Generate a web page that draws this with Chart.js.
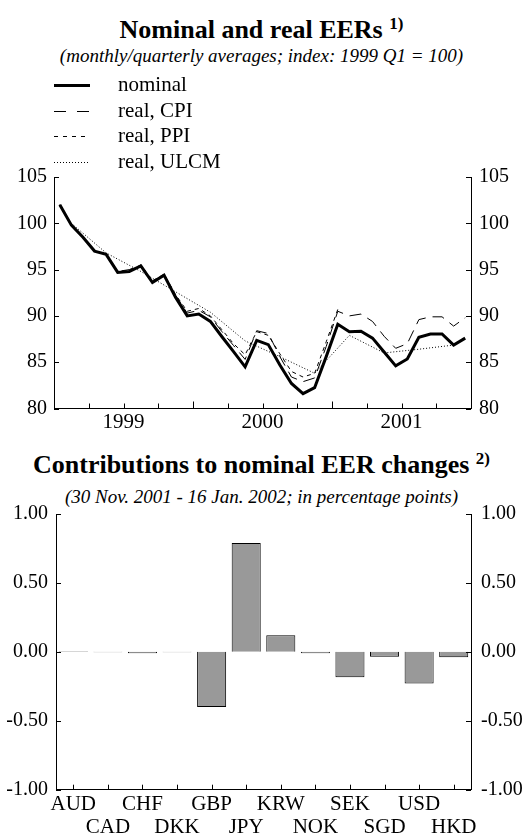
<!DOCTYPE html>
<html>
<head>
<meta charset="utf-8">
<script src="https://cdn.jsdelivr.net/npm/chart.js@4.4.0/dist/chart.umd.min.js"></script>
<style>
  body { margin: 0; background: #fff; }
  #page { position: relative; width: 523px; height: 836px; font-family: "Liberation Serif", "DejaVu Serif", serif; color: #000; }
  .titulo { position: absolute; left: 0; width: 523px; text-align: center; font-weight: bold; font-size: 26px; line-height: 30px; white-space: nowrap; }
  .titulo sup { font-size: 17px; vertical-align: 9px; line-height: 0; }
  .sub { position: absolute; left: 0; width: 523px; text-align: center; font-style: italic; font-size: 19px; line-height: 22px; white-space: nowrap; }
  canvas { position: absolute; left: 0; }
</style>
</head>
<body>
<div id="page">
  <div class="titulo" style="top:15px">Nominal and real EERs <sup>1)</sup></div>
  <div class="sub" style="top:45px">(monthly/quarterly averages; index: 1999 Q1 = 100)</div>
  <canvas id="graficoEER" width="523" height="440" style="top:0"></canvas>
  <div class="titulo" style="top:450px">Contributions to nominal EER changes <sup>2)</sup></div>
  <div class="sub" style="top:486px">(30 Nov. 2001 - 16 Jan. 2002; in percentage points)</div>
  <canvas id="graficoContrib" width="523" height="396" style="top:440px"></canvas>
</div>
<script>
// monthly averages, Jan 1999 - Dec 2001
const nominal = [102.0, 99.8, 98.5, 97.0, 96.65, 94.7, 94.8, 95.4, 93.6, 94.4, 92.0, 90.0,
    90.2, 89.4, 87.75, 86.15, 84.5, 87.35, 86.9, 84.7, 82.7, 81.6, 82.25, 85.6,
    89.1, 88.3, 88.35, 87.6, 86.1, 84.6, 85.35, 87.7, 88.05, 88.05, 86.85, 87.6];
const realCPI = [102.0, 99.8, 98.5, 97.0, 96.7, 94.8, 95.0, 95.5, 93.7, 94.5, 92.2, 90.3,
    90.6, 89.9, 88.3, 86.8, 85.3, 88.4, 88.1, 85.6, 83.4, 82.9, 83.3, 86.7,
    90.5, 90.0, 90.2, 89.4, 87.8, 86.5, 87.0, 89.6, 89.9, 89.9, 88.9, 89.8];
const realPPI = [102.0, 99.8, 98.5, 97.0, 96.7, 94.8, 94.9, 95.5, 93.8, 94.5, 92.3, 90.5,
    90.8, 90.0, 88.5, 87.0, 85.8, 88.3, 87.9, 85.9, 84.0, 83.4, 83.8, 87.2,
    90.7];
// quarterly averages, 1999 Q1 - 2001 Q4
const realULCM = [100.0, 96.8, 94.8, 92.6, 90.4, 87.3, 85.6, 83.8, 87.9, 86.0, 86.4, 86.85];
const yearLabels = ['1999', '2000', '2001'];
const eerTicks = [80, 85, 90, 95, 100, 105];

const currencies = ['AUD', 'CAD', 'CHF', 'DKK', 'GBP', 'JPY', 'KRW', 'NOK', 'SEK', 'SGD', 'USD', 'HKD'];
const contributions = [0.004, -0.003, -0.01, -0.003, -0.40, 0.79, 0.12, -0.01, -0.185, -0.035, -0.23, -0.04];
const contribTicks = [-1, -0.5, 0, 0.5, 1];

const fuente = '"Liberation Serif", "DejaVu Serif", serif';
Chart.defaults.font.family = fuente;
Chart.defaults.color = '#000';

// marcas cortas hacia dentro del area del grafico
const innerTicks = {
    id: 'innerTicks',
    afterDraw(chart, args, opts) {
        const ctx = chart.ctx;
        const area = chart.chartArea;
        const yl = chart.scales.y;
        const yr = chart.scales.y2;
        const x = chart.scales.x;
        ctx.save();
        ctx.strokeStyle = '#000';
        ctx.lineWidth = 1;
        ctx.beginPath();
        yl.ticks.forEach(t => {
            const py = Math.round(yl.getPixelForValue(t.value)) + 0.5;
            ctx.moveTo(area.left, py);
            ctx.lineTo(area.left + 5, py);
        });
        yr.ticks.forEach(t => {
            const py = Math.round(yr.getPixelForValue(t.value)) + 0.5;
            ctx.moveTo(area.right, py);
            ctx.lineTo(area.right - 5, py);
        });
        (opts.xTicks || []).forEach(v => {
            const px = Math.round(x.getPixelForValue(v)) + 0.5;
            const len = (opts.longTicks || []).includes(v) ? 7 : 5;
            ctx.moveTo(px, area.bottom);
            ctx.lineTo(px, area.bottom - len);
        });
        ctx.stroke();
        ctx.restore();
    }
};

// leyenda dibujada a mano con las muestras de linea
const leyendaLineas = {
    id: 'leyendaLineas',
    afterDraw(chart, args, opts) {
        const ctx = chart.ctx;
        ctx.save();
        ctx.font = '21px ' + fuente;
        ctx.fillStyle = '#000';
        ctx.textBaseline = 'middle';
        chart.data.datasets.forEach((ds, i) => {
            const y = Math.round(opts.top + i * opts.step);
            ctx.beginPath();
            ctx.strokeStyle = '#000';
            ctx.lineWidth = ds.borderWidth;
            ctx.setLineDash(opts.dashes[i]);
            ctx.moveTo(54, y + 0.5);
            ctx.lineTo(90, y + 0.5);
            ctx.stroke();
            ctx.fillText(ds.label, 118, y);
        });
        ctx.restore();
    }
};

function puntosMensuales(valores) {
    return valores.map((v, i) => ({ x: i + 0.5, y: v }));
}

function puntosTrimestrales(valores) {
    return valores.map((v, i) => ({ x: i * 3 + 1.5, y: v }));
}

function ejeY(posicion, ancho, ticksValores, formato, pad) {
    return {
        type: 'linear',
        position: posicion,
        min: ticksValores[0],
        max: ticksValores[ticksValores.length - 1],
        afterBuildTicks: axis => { axis.ticks = ticksValores.map(v => ({ value: v })); },
        afterFit: scale => { scale.width = ancho; },
        grid: { display: false, drawTicks: false },
        border: { display: true, color: '#000', width: 1 },
        ticks: { font: { size: 20 }, padding: pad, callback: formato }
    };
}

function inicializarEER() {
    const ctx = document.getElementById('graficoEER').getContext('2d');
    new Chart(ctx, {
        type: 'line',
        data: {
            datasets: [
                { label: 'nominal', data: puntosMensuales(nominal), borderColor: '#000', borderWidth: 3, pointRadius: 0, tension: 0, borderJoinStyle: 'miter' },
                { label: 'real, CPI', data: puntosMensuales(realCPI), borderColor: '#000', borderWidth: 1, borderDash: [12, 7], pointRadius: 0, tension: 0 },
                { label: 'real, PPI', data: puntosMensuales(realPPI), borderColor: '#000', borderWidth: 1, borderDash: [4, 4], pointRadius: 0, tension: 0 },
                { label: 'real, ULCM', data: puntosTrimestrales(realULCM), borderColor: '#000', borderWidth: 1, borderDash: [1, 2], pointRadius: 0, tension: 0 }
            ]
        },
        options: {
            responsive: false,
            animation: false,
            layout: { padding: { top: 177, left: 0, right: 0, bottom: 0 } },
            plugins: {
                legend: { display: false },
                tooltip: { enabled: false },
                innerTicks: { xTicks: [3, 6, 9, 12, 15, 18, 21, 24, 27, 30, 33], longTicks: [12, 24] },
                leyendaLineas: { top: 85, step: 25.7, dashes: [[], [12, 11], [4, 5], [1, 2]] }
            },
            scales: {
                x: {
                    type: 'linear',
                    min: 0,
                    max: 36,
                    afterBuildTicks: axis => { axis.ticks = yearLabels.map((y, i) => ({ value: 6 + i * 12 })); },
                    afterFit: scale => { scale.height = 440 - 408.5; },
                    grid: { display: false, drawTicks: false },
                    border: { display: true, color: '#000', width: 1 },
                    ticks: { font: { size: 21 }, padding: 1, maxRotation: 0, callback: v => yearLabels[(v - 6) / 12] }
                },
                y: ejeY('left', 54, eerTicks, v => String(v), 7),
                y2: ejeY('right', 52, eerTicks, v => String(v), 8)
            }
        },
        plugins: [innerTicks, leyendaLineas]
    });
}

function inicializarContrib() {
    const ctx = document.getElementById('graficoContrib').getContext('2d');
    new Chart(ctx, {
        type: 'bar',
        data: {
            // etiquetas alternadas en dos filas
            labels: currencies.map((c, i) => i % 2 === 0 ? [c, ''] : ['', c]),
            datasets: [{
                data: contributions,
                backgroundColor: '#999999',
                borderColor: '#000',
                borderWidth: 1,
                categoryPercentage: 1,
                barPercentage: 0.84,
                yAxisID: 'y'
            }]
        },
        options: {
            responsive: false,
            animation: false,
            layout: { padding: { top: 74, left: 0, right: 0, bottom: 0 } },
            plugins: {
                legend: { display: false },
                tooltip: { enabled: false },
                innerTicks: { xTicks: currencies.map((c, i) => i) }
            },
            scales: {
                x: {
                    afterFit: scale => { scale.height = 396 - 349.7; },
                    grid: { display: false, drawTicks: false },
                    border: { display: true, color: '#000', width: 1 },
                    ticks: { font: { size: 21, lineHeight: 1.1 }, padding: 3, maxRotation: 0, autoSkip: false }
                },
                y: ejeY('left', 56, contribTicks, v => v.toFixed(2), 8),
                y2: ejeY('right', 52, contribTicks, v => v.toFixed(2), 10)
            }
        },
        plugins: [innerTicks]
    });
}

document.addEventListener('DOMContentLoaded', () => {
    inicializarEER();
    inicializarContrib();
});
</script>
</body>
</html>
